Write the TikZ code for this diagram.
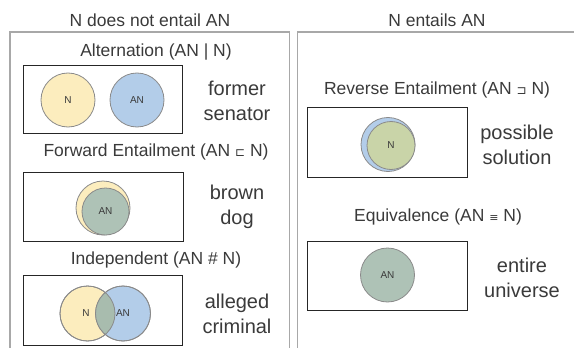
\documentclass[tikz,border=0pt]{standalone}
\usepackage{fontspec}
\setmainfont{Liberation Sans}
\newfontfamily\symfont{DejaVu Sans}
\definecolor{txt}{HTML}{3A3A3A}
\definecolor{panelgray}{HTML}{A8A8A8}
\definecolor{cyel}{HTML}{FCEDBE}
\definecolor{cblue}{HTML}{B3CDE9}
\definecolor{cover}{HTML}{A8BCAE}
\definecolor{cgreen}{HTML}{C9D4A8}
\definecolor{cequ}{HTML}{AEC2B6}
\definecolor{cborder}{HTML}{8A8A8A}
\begin{document}
\begin{tikzpicture}[x=1pt,y=-1pt,
  panel/.style={draw=panelgray,line width=1.4pt},
  vbox/.style={draw=black!85,line width=1pt},
  head/.style={text=txt,font=\fontsize{17.5}{20}\selectfont,inner sep=0pt},
  lab/.style={text=txt,font=\fontsize{20}{25}\selectfont,align=center,inner sep=0pt},
  circ/.style={circle,draw=cborder,line width=0.8pt,inner sep=0pt,minimum size=#1,text=txt,font=\fontsize{10}{12}\selectfont},
  circ/.default=54pt
]
\useasboundingbox (0,0) rectangle (574,348);
% panels
\coordinate (lp1) at (10,348);
\coordinate (lp2) at (10,32);
\coordinate (lp3) at (289.5,32);
\coordinate (lp4) at (289.5,348);
\draw[panel] (lp1) -- (lp2) -- (lp3) -- (lp4);
\coordinate (rp1) at (297.5,348);
\coordinate (rp2) at (297.5,32);
\coordinate (rp3) at (575,32);
\draw[panel] (rp1) -- (rp2) -- (rp3);
\node[head] (h1) at (150,20) {N does not entail AN};
\node[head] (h2) at (437,20) {N entails AN};

% Alternation
\node[head] (t1) at (156,52) {Alternation (AN | N)};
\node[vbox,minimum width=159pt,minimum height=68pt,inner sep=0pt] (b1) at (102.5,99) {};
\node[circ,fill=cyel] (a1) at (68,100) {N};
\node[circ,fill=cblue] (a2) at (137,100) {AN};
\node[lab] (l1) at (237,100.5) {former\\senator};

% Forward entailment
\node[head] (t2) at (156,152) {Forward Entailment (AN {\symfont\fontsize{12}{12}\selectfont ⊏} N)};
\node[vbox,minimum width=160pt,minimum height=69pt,inner sep=0pt] (b2) at (103,206.5) {};
\node[circ=54pt,fill=cyel] (f1) at (103,208) {};
\node[circ=47pt,fill=cequ] (f2) at (105.5,211.5) {AN};
\node[lab] (l2) at (237,207) {brown\\dog};

% Independent
\node[head] (t3) at (156,260) {Independent (AN \# N)};
\node[vbox,minimum width=159pt,minimum height=70pt,inner sep=0pt] (b3) at (102.5,310) {};
\node[circ=55pt,fill=cyel] (i1) at (87.5,313.5) {};
\node[circ=55pt,fill=cblue] (i2) at (123,313.5) {};
\begin{scope}
  \clip (87.5,313.5) circle (27.5pt);
  \fill[cover] (123,313.5) circle (27.5pt);
\end{scope}
\draw[cborder,line width=0.8pt] (i1.center) circle (27.5pt);
\draw[cborder,line width=0.8pt] (i2.center) circle (27.5pt);
\node[text=txt,font=\fontsize{10}{12}\selectfont] (i1t) at (86,313.5) {N};
\node[text=txt,font=\fontsize{10}{12}\selectfont] (i2t) at (123,313.5) {AN};
\node[lab] (l3) at (237,313.5) {alleged\\criminal};

% Reverse entailment
\node[head] (t4) at (437,90) {Reverse Entailment (AN {\symfont\fontsize{12}{12}\selectfont ⊐} N)};
\node[vbox,minimum width=160pt,minimum height=70pt,inner sep=0pt] (b4) at (387,142) {};
\node[circ=54pt,fill=cblue] (r1) at (388,144.5) {};
\node[circ=48pt,fill=cgreen] (r2) at (391,145.5) {N};
\node[lab] (l4) at (517,144.5) {possible\\solution};

% Equivalence
\node[head] (t5) at (438,217) {Equivalence (AN {\symfont\fontsize{11}{11}\selectfont ≡} N)};
\node[vbox,minimum width=160pt,minimum height=69pt,inner sep=0pt] (b5) at (387,275.5) {};
\node[circ=54pt,fill=cequ] (e1) at (387.5,275) {AN};
\node[lab] (l5) at (522,277.5) {entire\\universe};
\end{tikzpicture}
\end{document}
